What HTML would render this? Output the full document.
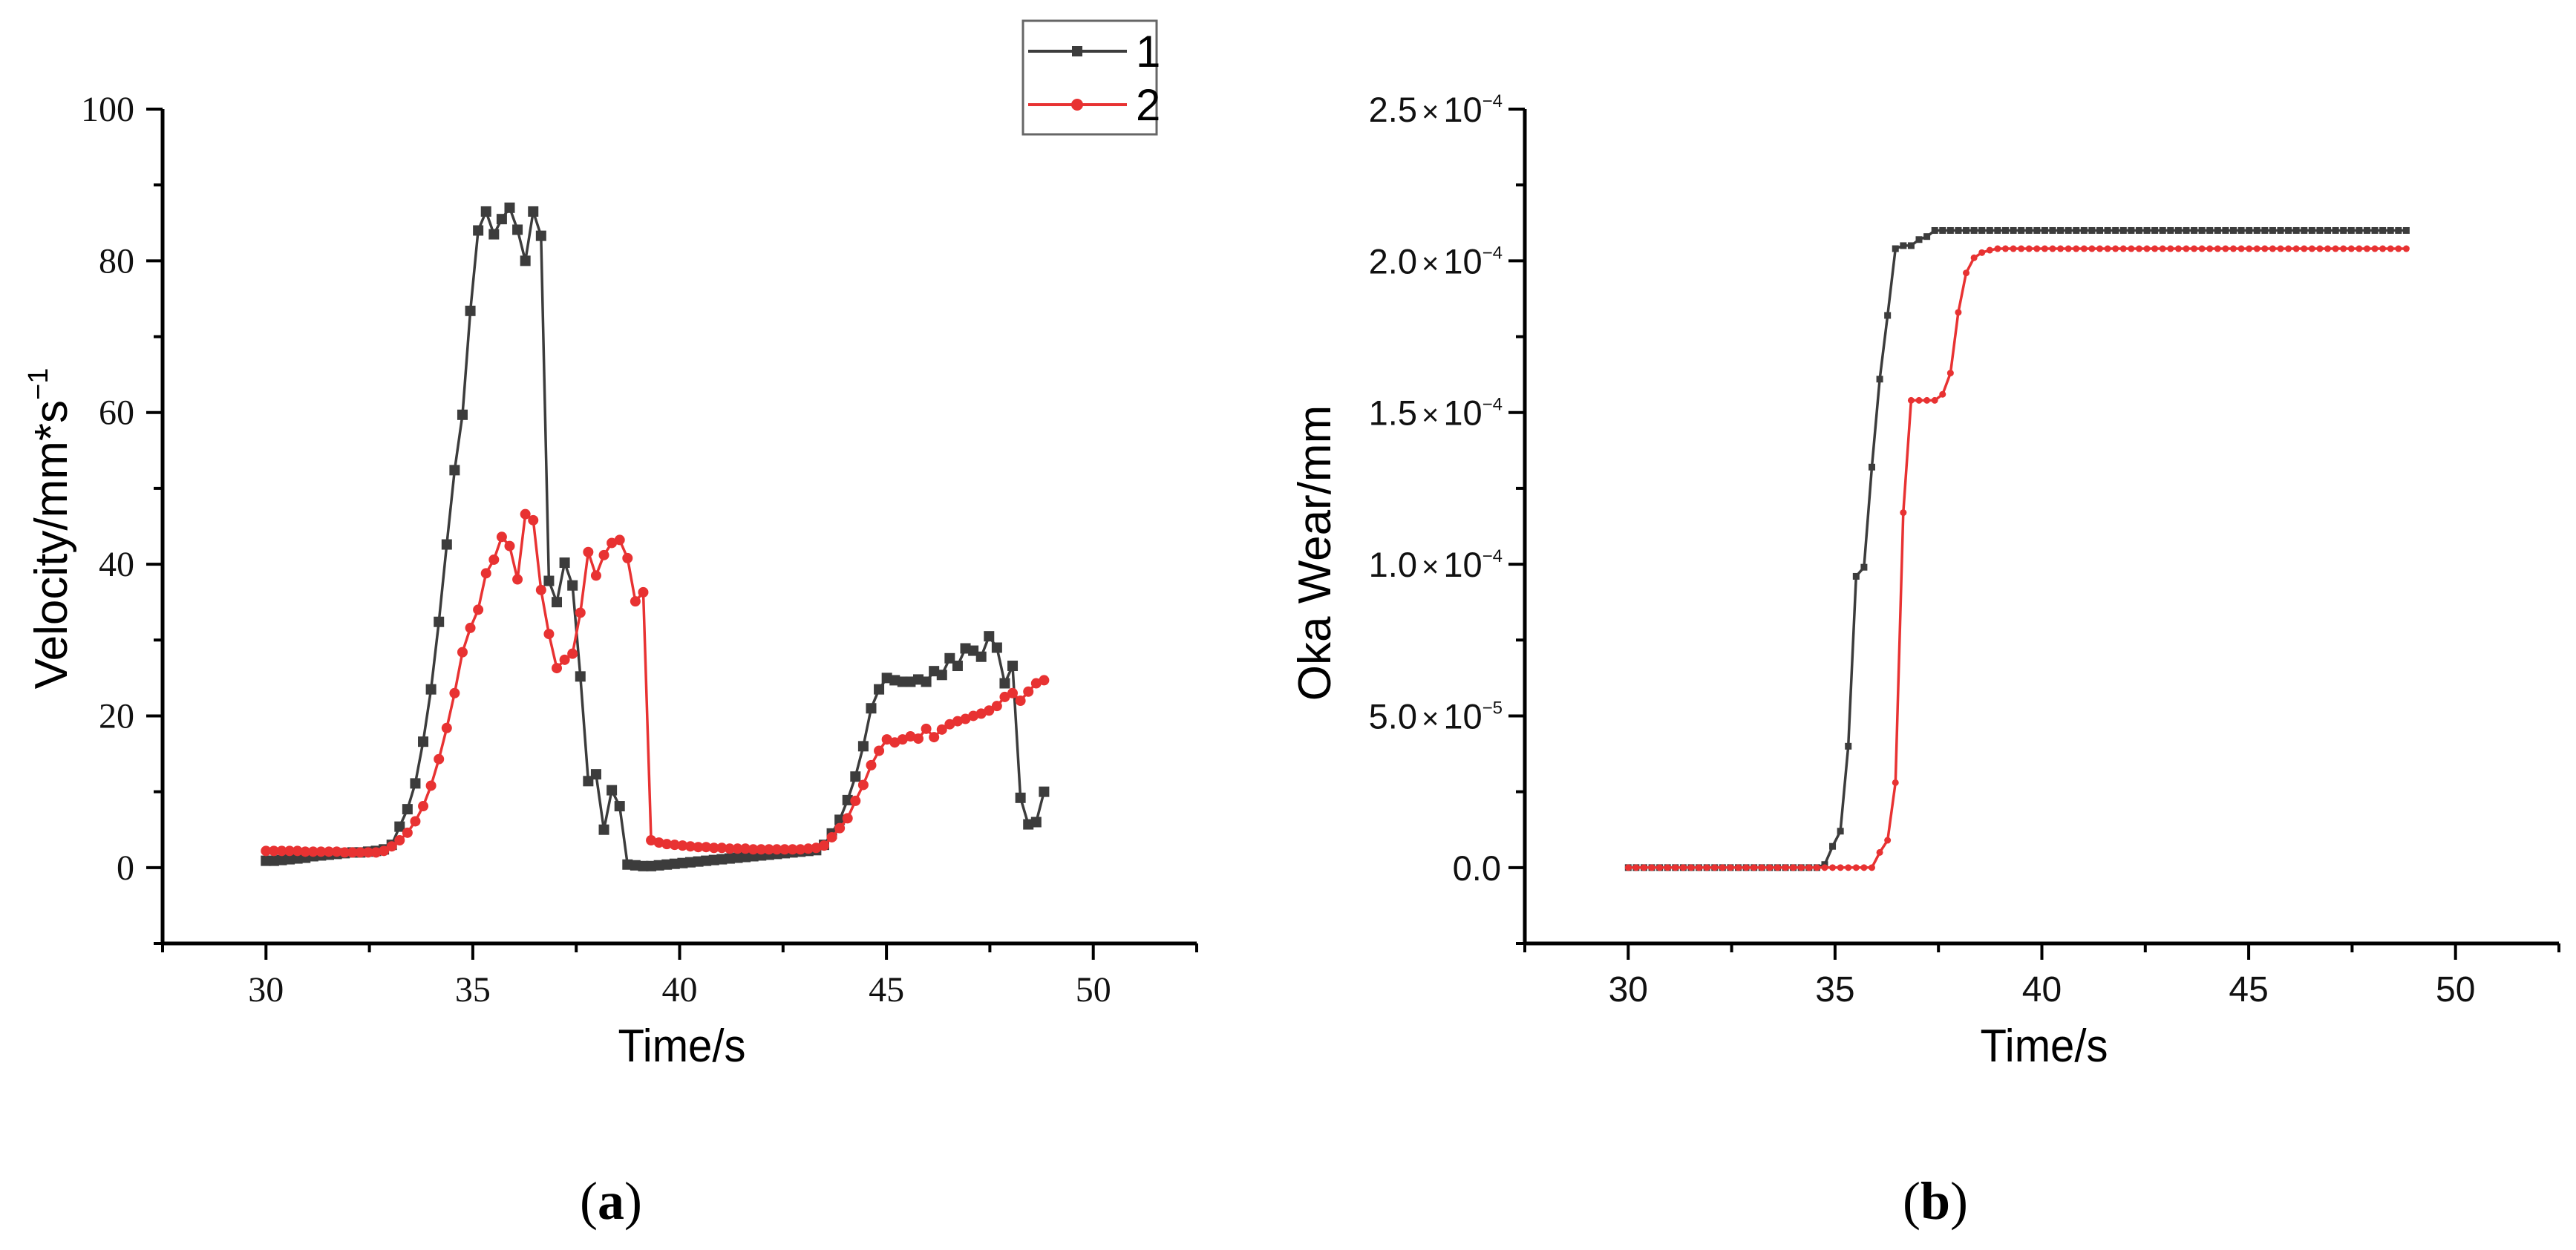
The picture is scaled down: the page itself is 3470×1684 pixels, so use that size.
<!DOCTYPE html>
<html><head><meta charset="utf-8"><style>
html,body{margin:0;padding:0;background:#fff;}
svg{display:block;}
</style></head><body>
<svg id="fig" width="3470" height="1684" viewBox="0 0 3470 1684" xmlns="http://www.w3.org/2000/svg">
<g id="chartA"></g>
<g id="chartB"></g>
</svg>
<script>
// ---- data ----
const timeStart = 30;
const timeStep = 0.19;
const velocity1 = [0.9,0.9,1.0,1.1,1.2,1.3,1.5,1.6,1.7,1.8,1.9,2.0,2.0,2.1,2.2,2.4,3.0,5.4,7.7,11.1,16.6,23.5,32.4,42.6,52.4,59.7,73.4,84,86.5,83.5,85.5,87,84.1,80,86.5,83.3,37.8,35,40.2,37.2,25.2,11.4,12.3,5,10.2,8.1,0.4,0.3,0.2,0.2,0.3,0.4,0.5,0.6,0.7,0.8,0.9,1.0,1.1,1.2,1.3,1.4,1.5,1.6,1.7,1.8,1.9,2.0,2.1,2.2,2.3,3.0,4.5,6.3,8.9,12,16,21,23.5,25,24.7,24.5,24.5,24.8,24.5,25.9,25.4,27.6,26.6,28.9,28.6,27.8,30.5,29,24.3,26.6,9.2,5.7,6,10];
const velocity2 = [2.2,2.2,2.2,2.2,2.2,2.1,2.1,2.1,2.1,2.1,2.0,2.0,2.0,2.0,2.0,2.2,2.8,3.6,4.6,6.1,8.1,10.8,14.3,18.4,23,28.4,31.6,34,38.8,40.6,43.6,42.4,38,46.6,45.8,36.6,30.8,26.3,27.4,28.2,33.6,41.6,38.5,41.2,42.8,43.2,40.8,35.1,36.3,3.6,3.3,3.1,3.0,2.9,2.8,2.7,2.7,2.6,2.6,2.5,2.5,2.5,2.4,2.4,2.4,2.4,2.4,2.4,2.4,2.5,2.6,2.9,4.0,5.2,6.5,8.8,10.9,13.5,15.4,16.9,16.5,16.9,17.3,17.0,18.3,17.2,18.2,18.9,19.3,19.6,20.0,20.3,20.7,21.3,22.5,23.0,22.0,23.2,24.3,24.7];
// wear in units of 1e-5 mm
const wear1 = [0,0,0,0,0,0,0,0,0,0,0,0,0,0,0,0,0,0,0,0,0,0,0,0,0,0.1,0.7,1.2,4.0,9.6,9.9,13.2,16.1,18.2,20.4,20.5,20.5,20.7,20.8,21.0,21.0,21.0,21.0,21.0,21.0,21.0,21.0,21.0,21.0,21.0,21.0,21.0,21.0,21.0,21.0,21.0,21.0,21.0,21.0,21.0,21.0,21.0,21.0,21.0,21.0,21.0,21.0,21.0,21.0,21.0,21.0,21.0,21.0,21.0,21.0,21.0,21.0,21.0,21.0,21.0,21.0,21.0,21.0,21.0,21.0,21.0,21.0,21.0,21.0,21.0,21.0,21.0,21.0,21.0,21.0,21.0,21.0,21.0,21.0,21.0];
const wear2 = [0,0,0,0,0,0,0,0,0,0,0,0,0,0,0,0,0,0,0,0,0,0,0,0,0,0,0,0,0,0,0,0,0.5,0.9,2.8,11.7,15.4,15.4,15.4,15.4,15.6,16.3,18.3,19.6,20.1,20.27,20.35,20.4,20.4,20.4,20.4,20.4,20.4,20.4,20.4,20.4,20.4,20.4,20.4,20.4,20.4,20.4,20.4,20.4,20.4,20.4,20.4,20.4,20.4,20.4,20.4,20.4,20.4,20.4,20.4,20.4,20.4,20.4,20.4,20.4,20.4,20.4,20.4,20.4,20.4,20.4,20.4,20.4,20.4,20.4,20.4,20.4,20.4,20.4,20.4,20.4,20.4,20.4,20.4,20.4];
const xTicks = [30,35,40,45,50];
const yTicksA = [0,20,40,60,80,100];
const yTicksB = [0,5,10,15,20,25];
const yLabelsB = [["0.0",""],["5.0","-5"],["1.0","-4"],["1.5","-4"],["2.0","-4"],["2.5","-4"]];

const NS = "http://www.w3.org/2000/svg";
const C1 = "#3c3c3c", C2 = "#e83232";
function mk(parent, tag, attrs, text){
  const e = document.createElementNS(NS, tag);
  for (const k in attrs) e.setAttribute(k, attrs[k]);
  if (text !== undefined) e.textContent = text;
  parent.appendChild(e);
  return e;
}
function times(n){ const t=[]; for(let i=0;i<n;i++) t.push(timeStart+i*timeStep); return t; }

function drawChart(g, o){
  const sx = v => o.x0 + (v - 27.5) / 25 * (o.x1 - o.x0);
  const sy = v => o.yBot + (v - o.yMin) / (o.yMax - o.yMin) * (o.yTop - o.yBot);
  let e = mk(g,'line',{x1:o.x0,y1:o.yTop,x2:o.x0,y2:o.yBot+2,stroke:'#000','stroke-width':5});
   
  e = mk(g,'line',{x1:o.x0-2,y1:o.yBot,x2:o.x1,y2:o.yBot,stroke:'#000','stroke-width':5});
   
  for (let v=27.5; v<=52.51; v+=2.5){
    const major = xTicks.indexOf(v) >= 0;
    e = mk(g,'line',{x1:sx(v),y1:o.yBot,x2:sx(v),y2:o.yBot+(major?22:12),stroke:'#000','stroke-width':4});
     
  }
  xTicks.forEach(v=>{
    const t = mk(g,'text',{x:sx(v),y:o.yBot+78,'text-anchor':'middle','font-family':o.tickFont,'font-size':48,fill:'#111'}, String(v));
     
  });
  const step = o.yTicks[1]-o.yTicks[0];
  for (let v=o.yMin; v<=o.yMax+1e-9; v+=step/2){
    const major = o.yTicks.some(t=>Math.abs(t-v)<1e-9);
    e = mk(g,'line',{x1:o.x0,y1:sy(v),x2:o.x0-(major?22:12),y2:sy(v),stroke:'#000','stroke-width':4});
     
  }
  o.yTicks.forEach((v,i)=>{
    let t;
    if (o.yLabels){
      const lab = o.yLabels[i];
      if (lab[1]===""){
        t = mk(g,'text',{x:o.x0-32,y:sy(v)+17,'text-anchor':'end','font-family':'Liberation Sans, sans-serif','font-size':47,fill:'#111'}, lab[0]);
      } else {
        t = mk(g,'text',{x:o.x0-30,y:sy(v)+17,'text-anchor':'end','font-family':'Liberation Sans, sans-serif','font-size':47,fill:'#111'});
        mk(t,'tspan',{}, lab[0]);
        mk(t,'tspan',{'font-size':40,dx:6}, "×");
        mk(t,'tspan',{dx:6}, "10");
        mk(t,'tspan',{'font-size':24,dy:-20}, "−"+lab[1].slice(1));
      }
    } else {
      t = mk(g,'text',{x:o.x0-38,y:sy(v)+16,'text-anchor':'end','font-family':o.tickFont,'font-size':48,fill:'#111'}, String(v));
    }
     
  });
  o.series.forEach(s=>{
    const ts = times(s.data.length);
    const pts = s.data.map((v,i)=>sx(ts[i]).toFixed(1)+','+sy(v).toFixed(1)).join(' ');
    const sg = mk(g,'g',{});
     
    mk(sg,'polyline',{points:pts,fill:'none',stroke:s.color,'stroke-width':o.lw,'stroke-linejoin':'round'});
    s.data.forEach((v,i)=>{
      let m;
      if (s.shape==='square') m = mk(sg,'rect',{x:sx(ts[i])-o.ms/2,y:sy(v)-o.ms/2,width:o.ms,height:o.ms,fill:s.color});
      else m = mk(sg,'circle',{cx:sx(ts[i]),cy:sy(v),r:o.ms/2,fill:s.color});
       
    });
  });
  let t = mk(g,'text',{x:(o.x0+o.x1)/2+3,y:1430,'text-anchor':'middle','font-family':'Liberation Sans, sans-serif','font-size':62,textLength:172,lengthAdjust:'spacingAndGlyphs',fill:'#000'}, 'Time/s');
   
}

const gA = document.getElementById('chartA');
drawChart(gA,{x0:219,x1:1612,yTop:147,yBot:1271,yMin:-10,yMax:100,yTicks:yTicksA,tickFont:'Liberation Serif, serif',lw:3.5,ms:14,
  series:[{name:'series-1',data:velocity1,color:C1,shape:'square'},{name:'series-2',data:velocity2,color:C2,shape:'circle'}]});
const gB = document.getElementById('chartB');
drawChart(gB,{x0:2054,x1:3447,yTop:147,yBot:1271,yMin:-2.5,yMax:25,yTicks:yTicksB,yLabels:yLabelsB,tickFont:'Liberation Sans, sans-serif',lw:3.5,ms:9,
  series:[{name:'series-1',data:wear1,color:C1,shape:'square'},{name:'series-2',data:wear2,color:C2,shape:'circle'}]});
</script>
<svg style="position:absolute;left:0;top:0" width="3470" height="1684" xmlns="http://www.w3.org/2000/svg">
  <text transform="translate(90,712) rotate(-90)" text-anchor="middle" font-family="Liberation Sans, sans-serif" font-size="62" fill="#000">Velocity/mm*s<tspan font-size="38" dy="-26">−1</tspan></text>
  <text transform="translate(1792,745) rotate(-90)" text-anchor="middle" font-family="Liberation Sans, sans-serif" font-size="62" fill="#000">Oka Wear/mm</text>
  <g>
    <rect x="1378" y="28" width="180" height="153" fill="#fff" stroke="#666" stroke-width="3"/>
    <g>
      <line x1="1385" y1="69" x2="1518" y2="69" stroke="#3c3c3c" stroke-width="4"/>
      <rect x="1444" y="62" width="14" height="14" fill="#3c3c3c"/>
      <text x="1530" y="90" font-family="Liberation Sans, sans-serif" font-size="60" fill="#000">1</text>
    </g>
    <g>
      <line x1="1385" y1="141" x2="1518" y2="141" stroke="#e83232" stroke-width="4"/>
      <circle cx="1451" cy="141" r="8" fill="#e83232"/>
      <text x="1530" y="162" font-family="Liberation Sans, sans-serif" font-size="60" fill="#000">2</text>
    </g>
  </g>
  <text x="823" y="1642" text-anchor="middle" font-family="Liberation Serif, serif" font-size="72" fill="#000">(<tspan font-weight="bold">a</tspan>)</text>
  <text x="2607" y="1642" text-anchor="middle" font-family="Liberation Serif, serif" font-size="72" fill="#000">(<tspan font-weight="bold">b</tspan>)</text>
</svg>
</body></html>
